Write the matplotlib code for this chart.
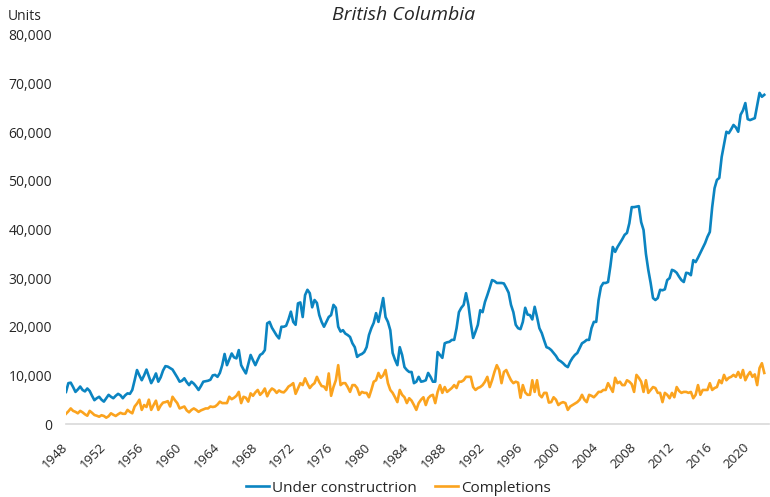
import matplotlib
matplotlib.use("Agg")
import matplotlib.pyplot as plt
import matplotlib.transforms as mtrans
from matplotlib.ticker import FuncFormatter

# Quarterly data, 1948Q1 .. 2021Q4 (units)
under_construction = [
    6600, 8400, 8500, 7600,   6600, 7100, 7700, 7000,   6700, 7300, 6800, 5800,
    4900, 5300, 5600, 5000,   4600, 5300, 6000, 5600,   5300, 5800, 6200, 5900,
    5300, 5900, 6300, 6200,   7000, 9000, 11100, 10000, 9000, 10000, 11200, 9800,
    8400, 9300, 10400, 8700,  9600, 11000, 11900, 11800, 11500, 11200, 10400, 9600,
    8700, 8900, 9400, 8600,   8000, 8700, 8300, 7700,   7000, 7800, 8700, 8800,
    8900, 9100, 10000, 10100, 9700, 10500, 12100, 14400, 12100, 13300, 14500, 13700,
    13500, 15200, 12100, 11200, 10400, 12300, 14200, 13100, 12100, 13200, 14200, 14500,
    15200, 20700, 21000, 19800, 19000, 18200, 17600, 20000, 20000, 20200, 21500, 23100,
    21000, 20400, 24800, 25000, 22000, 26500, 27600, 26900, 24000, 25500, 24900, 22400,
    21000, 20000, 21000, 22000, 22400, 24500, 23900, 20000, 19000, 19300, 18600, 18300,
    17900, 16600, 15800, 13800, 14200, 14400, 14800, 15800, 18300, 19700, 20800, 22800,
    21000, 23400, 25900, 22000, 21000, 19300, 14600, 13200, 12100, 15800, 14200, 11700,
    11100, 10700, 10700, 8400, 8700, 9700, 8700, 8800,   9000, 10500, 9700, 8700,
    8700, 14800, 14200, 13600, 16600, 16800, 16900, 17300, 17300, 19700, 23000, 23900,
    24500, 26900, 24500, 20800, 17700, 19000, 20400, 23400, 23000, 25100, 26500, 28000,
    29600, 29400, 29000, 29000, 29000, 28900, 28000, 27000, 24500, 23000, 20400, 19700,
    19500, 21000, 23900, 22500, 22400, 21500, 24100, 22000, 19700, 18700, 17200, 15800,
    15600, 15200, 14600, 14000, 13200, 12900, 12500, 12000, 11700, 12800, 13600, 14200,
    14600, 15600, 16600, 16900, 17300, 17300, 19700, 21000, 21000, 25500, 28200, 29000,
    29000, 29200, 32500, 36400, 35400, 36400, 37200, 38000, 38900, 39300, 41300, 44600,
    44600, 44700, 44800, 41500, 39900, 35000, 31700, 29000, 25900, 25500, 25900, 27600,
    27500, 27700, 29600, 30000, 31700, 31500, 31100, 30300, 29600, 29200, 31100, 31000,
    30600, 33700, 33300, 34200, 35200, 36200, 37200, 38500, 39500, 44600, 48500, 50200,
    50600, 54900, 57500, 60100, 59800, 60600, 61500, 61000, 60100, 63600, 64500, 66000,
    62700, 62500, 62700, 62900, 65500, 68100, 67300, 67700,
]

completions = [
    2100, 2600, 3200, 2700,   2500, 2200, 2700, 2400,   2000, 1700, 2700, 2300,
    1850, 1700, 1500, 1800,   1650, 1300, 1600, 2200,   1900, 1650, 2000, 2300,
    2100, 2100, 2900, 2500,   2200, 3600, 4200, 5000,   2900, 3900, 3500, 5000,
    2900, 3900, 4800, 2900,   3800, 4400, 4500, 4700,   3600, 5600, 4900, 4300,
    3200, 3400, 3600, 2800,   2400, 2900, 3200, 2900,   2500, 2800, 3000, 3200,
    3200, 3600, 3500, 3600,   4000, 4600, 4300, 4300,   4300, 5600, 5100, 5400,
    5800, 6600, 4300, 5600,   5400, 4600, 6300, 5800,   6500, 7000, 6000, 6500,
    7300, 5700, 6700, 7300,   7000, 6400, 6900, 6600,   6500, 7000, 7700, 8000,
    8400, 6200, 7300, 8400,   8000, 9400, 8300, 7400,   8000, 8400, 9700, 8600,
    7800, 7700, 7000, 10400,  5800, 7600, 9000, 12100,  8000, 8400, 8400, 7600,
    6600, 8000, 8000, 7400,   6000, 6600, 6400, 6400,   5500, 7000, 8700, 9000,
    10500, 9500, 10000, 11100, 8400, 7000, 6400, 5500,  4500, 7000, 6000, 5500,
    4300, 5300, 4800, 3900,   2900, 4300, 5000, 5500,   3900, 5300, 5800, 6000,
    4300, 6600, 8000, 6400,   7600, 6600, 7000, 7400,   8000, 7400, 8700, 8700,
    9000, 9700, 9700, 9700,   7600, 7000, 7400, 7600,   8000, 8700, 9700, 7600,
    9000, 10700, 12100, 11100, 8400, 10700, 11100, 10000, 9000, 8400, 8700, 8500,
    5400, 8000, 6500, 6000,   6000, 9000, 6600, 9000,   6000, 5500, 6400, 6400,
    4400, 4500, 5500, 5000,   3900, 4300, 4500, 4300,   2900, 3600, 3900, 4200,
    4500, 5000, 6000, 5000,   4500, 6000, 5800, 5500,   6000, 6600, 6600, 7000,
    7000, 8400, 7500, 6600,   9500, 8400, 8700, 8000,   8000, 9000, 8700, 8200,
    6600, 10100, 9500, 8700,  6600, 9000, 6400, 7000,   7600, 7400, 6400, 6400,
    4500, 6400, 6000, 5300,   6400, 5500, 7600, 6800,   6400, 6600, 6600, 6400,
    6600, 5300, 6000, 8000,   6000, 7000, 7000, 7000,   8400, 7000, 7400, 7600,
    9000, 8400, 10100, 9000,  9500, 9700, 10100, 9700,  10700, 9500, 11100, 9000,
    10000, 10700, 9700, 10200, 8000, 11500, 12500, 10500,
]

start_year = 1948
tick_years = list(range(1948, 2021, 4))
y_ticks = list(range(0, 80001, 10000))

series_names = ["Under constructrion", "Completions"]
subtitle = "British Columbia"
y_unit_label = "Units"

BLUE = "#0B84C1"
ORANGE = "#FBA31E"
TEXT = "#262626"

plt.rcParams["font.family"] = ["Open Sans", "DejaVu Sans"]

fig = plt.figure(figsize=(7.70, 4.97), dpi=100)
W, H = 770, 497
ax = fig.add_axes([66 / W, (H - 424) / H, (769 - 66) / W, (424 - 35) / H])

x = list(range(len(under_construction)))
ax.plot(x, under_construction, color=BLUE, lw=1.9, solid_joinstyle="round",
        label=series_names[0])
ax.plot(x, completions, color=ORANGE, lw=1.9, solid_joinstyle="round",
        label=series_names[1])

ax.set_xlim(0, 297)
ax.set_ylim(0, 80000)
ax.set_yticks(y_ticks)
ax.yaxis.set_major_formatter(FuncFormatter(lambda v, p: f"{int(v):,}"))
ax.set_xticks([(y - start_year) * 4 for y in tick_years])
ax.set_xticklabels([str(y) for y in tick_years], rotation=45, ha="right",
                   va="center", rotation_mode="anchor")
offset = mtrans.ScaledTranslation(3 / 72, 0, fig.dpi_scale_trans)
for lab in ax.get_xticklabels():
    lab.set_transform(lab.get_transform() + offset)

ax.tick_params(axis="x", length=0, pad=15, labelsize=9.5, labelcolor=TEXT)
ax.tick_params(axis="y", length=0, pad=10, labelsize=10, labelcolor=TEXT)

for s in ["top", "right", "left"]:
    ax.spines[s].set_visible(False)
ax.spines["bottom"].set_color("#D9D9D9")
ax.spines["bottom"].set_linewidth(1.2)
ax.grid(False)

fig.text(8 / W, 1 - 17 / H, y_unit_label, ha="left", va="center",
         fontsize=10, color=TEXT)
fig.text(404 / W, 1 - 15 / H, subtitle, ha="center", va="center",
         fontsize=14, style="italic", color=TEXT)

fig.legend(loc="center", bbox_to_anchor=(398 / W, 1 - 488 / H), ncol=2,
           frameon=False, fontsize=11, handlelength=1.5, handletextpad=0.2,
           columnspacing=1.2, labelcolor=TEXT)

fig.savefig("out.png", dpi=100)
